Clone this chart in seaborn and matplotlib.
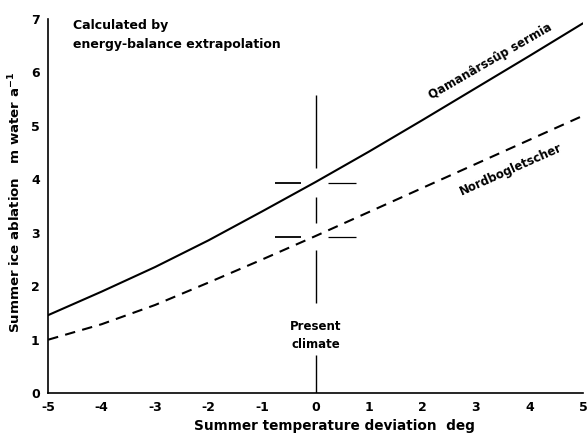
"""
Summer ice ablation vs summer temperature deviation (energy-balance extrapolation).
"""

import pandas as pd
import matplotlib
matplotlib.use("Agg")
import matplotlib.pyplot as plt
import seaborn as sns

# values
temp_dev = [-5, -4, -3, -2, -1, 0, 1, 2, 3, 4, 5]
qamanarssup = [1.46, 1.90, 2.36, 2.86, 3.40, 3.95, 4.52, 5.11, 5.71, 6.31, 6.92]
nordbogletscher = [1.00, 1.29, 1.65, 2.07, 2.50, 2.94, 3.39, 3.84, 4.29, 4.74, 5.19]
glacier_names = ["Qamanârssûp sermia", "Nordbogletscher"]

present_dev = 0
present_ablation = [3.93, 2.92]
x_ticks = [-5, -4, -3, -2, -1, 0, 1, 2, 3, 4, 5]
y_ticks = [0, 1, 2, 3, 4, 5, 6, 7]


def main():
    df = pd.DataFrame({
        "dev": temp_dev * 2,
        "abl": qamanarssup + nordbogletscher,
        "glacier": [glacier_names[0]] * len(temp_dev) + [glacier_names[1]] * len(temp_dev),
    })

    sns.set_style("white")
    plt.rcParams["font.family"] = ["DejaVu Sans"]
    plt.rcParams["font.weight"] = "bold"
    plt.rcParams["text.color"] = "black"
    plt.rcParams["axes.labelcolor"] = "black"

    fig = plt.figure(figsize=(5.87, 4.33), dpi=100)
    ax = fig.add_axes([0.082, 0.092, 0.911, 0.864])

    sns.lineplot(data=df, x="dev", y="abl", style="glacier", color="black",
                 dashes={glacier_names[0]: "", glacier_names[1]: (5, 3.5)},
                 linewidth=1.5, legend=False, ax=ax)

    # present climate cross
    for lo, hi in [(4.21, 5.58), (3.18, 3.67), (1.69, 2.68), (0, 0.71)]:
        ax.vlines(present_dev, lo, hi, color="black", linewidth=1.0)
    for yv in present_ablation:
        ax.hlines(yv, present_dev - 0.76, present_dev - 0.27, color="black", linewidth=1.3)
        ax.hlines(yv, present_dev + 0.23, present_dev + 0.76, color="black", linewidth=0.9)
    ax.text(present_dev, 1.08, "Present\nclimate", ha="center", va="center",
            fontsize=8.5, fontweight="bold", linespacing=1.5)

    ax.text(3.28, 6.2, glacier_names[0], rotation=30, ha="center", va="center",
            fontsize=8.5, fontweight="bold", rotation_mode="anchor")
    ax.text(3.65, 4.18, glacier_names[1], rotation=24, ha="center", va="center",
            fontsize=8.5, fontweight="bold", rotation_mode="anchor")

    ax.text(-4.53, 7.0, "Calculated by\nenergy-balance extrapolation", ha="left", va="top",
            fontsize=9, fontweight="bold", linespacing=1.6)

    ax.set_xlim(-5, 5)
    ax.set_ylim(0, 7)
    ax.set_xticks(x_ticks)
    ax.set_yticks(y_ticks)
    ax.set_xticklabels([str(t) for t in x_ticks], fontsize=9, fontweight="bold")
    ax.set_yticklabels([str(t) for t in y_ticks], fontsize=9, fontweight="bold")
    ax.tick_params(direction="out", length=3, width=1, colors="black", pad=3)
    ax.set_xlabel("Summer temperature deviation  deg", fontsize=9.8, fontweight="bold")
    ax.set_ylabel("Summer ice ablation   m water a$^{-1}$", fontsize=9.6, fontweight="bold")
    ax.xaxis.set_label_coords(0.535, -0.068)
    ax.yaxis.set_label_coords(-0.046, 0.51)

    sns.despine(ax=ax)
    for side in ["left", "bottom"]:
        ax.spines[side].set_color("black")
        ax.spines[side].set_linewidth(1.2)

    fig.savefig("out.png", dpi=100, facecolor="white")


if __name__ == "__main__":
    main()
